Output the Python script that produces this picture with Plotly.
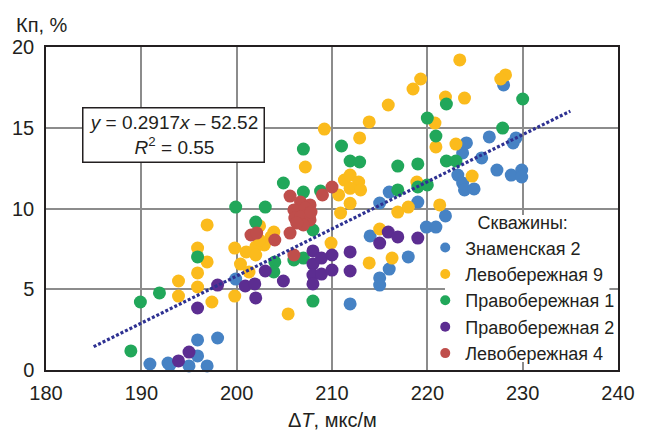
import plotly.graph_objects as go

# ---- data ----
zn2_x = [190.9,192.8,193.0,195.0,195.9,195.9,196.9,198.0,199.9,211.9,214.0,215.0,215.0,215.0,216.0,216.0,218.0,219.0,219.9,
         220.9,221.9,223.2,223.7,223.9,224.9,223.7,224.1,225.7,226.5,227.3,228.8,229.0,229.3,229.9,229.9,228.0]
zn2_y = [0.37,0.43,0.31,0.25,1.86,0.87,0.25,1.98,5.63,4.09,8.30,10.34,5.70,5.26,11.02,6.25,7.00,10.40,8.85,
         8.85,9.54,12.07,11.58,11.15,11.21,13.44,14.06,13.13,14.43,12.38,12.07,14.06,14.37,12.38,11.95,17.65]

lb9_x = [196.9,195.9,196.9,195.9,193.9,195.9,193.9,197.4,199.8,199.8,200.4,
         207.2,202.4,203.9,203.6,202.9,202.0,201.0,202.0,201.3,202.4,
         205.4,209.9,210.9,211.3,211.9,212.8,210.7,211.9,213.0,211.9,
         212.9,213.9,215.9,209.2,215.0,216.9,218.0,218.9,220.9,213.9,216.3,221.3,
         223.4,219.3,218.5,221.9,223.9,220.8,228.2,227.7,223.0,224.7]
lb9_y = [8.98,7.55,6.69,6.01,5.51,5.14,4.58,4.21,7.55,4.58,6.56,
         12.57,8.92,8.54,8.24,7.74,7.62,7.31,7.12,6.07,8.05,
         3.47,7.86,9.72,11.76,12.07,11.64,10.84,11.25,11.15,10.32,
         14.37,15.36,16.41,14.92,8.73,9.78,10.09,11.64,13.81,6.63,6.93,10.22,
         19.20,18.02,17.40,16.90,16.84,15.29,18.27,18.02,13.99,12.01]

pb1_x = [188.9,189.9,191.9,195.9,199.9,203.0,202.0,207.0,211.0,204.9,207.0,208.8,208.0,204.0,206.0,207.0,
         203.9,208.0,211.9,212.9,216.9,219.0,216.9,219.0,220.0,220.9,222.0,223.0,222.0,220.0,227.9,230.0]
pb1_y = [1.18,4.21,4.77,7.00,10.09,10.09,9.16,13.68,13.87,11.58,11.02,11.08,8.67,6.69,6.81,6.93,
         6.07,4.27,12.94,12.88,12.63,12.76,11.15,11.33,11.46,14.49,12.94,12.94,16.47,15.60,14.98,16.78]

pb2_x = [193.9,195.0,195.9,198.0,200.9,201.9,202.0,203.0,204.9,208.0,208.0,208.0,208.0,208.9,208.9,210.0,
         210.0,211.9,211.9,215.0,215.9,216.9,219.0]
pb2_y = [0.56,1.11,3.84,5.26,5.20,5.33,4.46,6.13,5.51,7.37,6.56,5.88,5.33,6.93,5.94,7.12,
         6.19,7.31,6.13,7.86,8.54,8.24,8.17]

lb4_x = [210.0,209.0,205.6,206.7,207.7,206.0,207.2,206.1,206.7,207.7,207.0,206.3,207.8,201.5,202.1,204.0,205.6,206.0]
lb4_y = [11.33,10.84,10.77,10.40,10.22,9.91,10.03,9.41,9.47,9.29,8.98,9.10,9.78,8.36,8.48,8.05,8.48,7.12]

series_names = ["Знаменская 2", "Левобережная 9", "Правобережная 1", "Правобережная 2", "Левобережная 4"]
series_colors = ["#4682c4", "#fbbb1c", "#21a75a", "#5c2d91", "#bf4e4b"]
series_x = [zn2_x, lb9_x, pb1_x, pb2_x, lb4_x]
series_y = [zn2_y, lb9_y, pb1_y, pb2_y, lb4_y]

trend_slope = 0.2917
trend_intercept = -52.52
trend_x = [185, 235]
trend_y = [trend_slope * v + trend_intercept for v in trend_x]

FONT = "Arial, Liberation Sans, Helvetica, sans-serif"

fig = go.Figure()
for name, col, xs, ys in zip(series_names, series_colors, series_x, series_y):
    fig.add_trace(go.Scatter(x=xs, y=ys, mode="markers", name=name, showlegend=False,
                             marker=dict(color=col, size=13, line=dict(width=0)),
                             cliponaxis=False))
fig.add_trace(go.Scatter(x=trend_x, y=trend_y, mode="lines", showlegend=False,
                         line=dict(color="#2e3192", width=3.2, dash="3px,2px")))
# legend-only entries
for name, col in zip(series_names, series_colors):
    fig.add_trace(go.Scatter(x=[None], y=[None], mode="markers", name=name,
                             marker=dict(color=col, size=10)))

fig.update_layout(
    width=647, height=431,
    margin=dict(l=42, r=20, t=47, b=61),
    paper_bgcolor="white", plot_bgcolor="white",
    font=dict(family=FONT, size=20, color="#231f20"),
    xaxis=dict(range=[180, 240], dtick=10, showgrid=True, gridcolor="#8c8c8c", gridwidth=1.5,
               showline=True, linecolor="#231f20", linewidth=1.5, mirror=True, zeroline=False,
               ticks="", ticklabelstandoff=4, tickfont=dict(size=20)),
    yaxis=dict(range=[0, 20], dtick=5, showgrid=True, gridcolor="#8c8c8c", gridwidth=1.5,
               showline=True, linecolor="#231f20", linewidth=1.5, mirror=True, zeroline=False,
               ticks="", ticklabelstandoff=6, tickfont=dict(size=20)),
    legend=dict(x=0.663, xanchor="left", y=0.508, yanchor="top",
                bgcolor="rgba(0,0,0,0)", borderwidth=0,
                font=dict(family=FONT, size=18, color="#231f20"),
                title=dict(text="Скважины:", side="top center", font=dict(size=18))),
    shapes=[dict(type="rect", xref="x", yref="y", x0=221.85, x1=239.1, y0=0.5, y1=9.6,
                 fillcolor="white", line=dict(width=0), layer="between")],
    annotations=[
        dict(text="<i>y</i> = 0.2917<i>x</i> – 52.52<br><i>R</i><sup>2</sup> = 0.55",
             x=193.4, y=14.55, xref="x", yref="y", showarrow=False, align="center",
             font=dict(size=19), bgcolor="white", bordercolor="#231f20", borderwidth=1.5,
             width=178, height=51, borderpad=1),
        dict(text="Δ<i>T</i>, мкс/м", x=0.5, y=(370-420)/323, xref="paper", yref="paper",
             showarrow=False, xanchor="center", yanchor="middle", font=dict(size=20)),
        dict(text="Кп, %", x=(9-42)/585, y=(370-25)/323, xref="paper", yref="paper",
             showarrow=False, xanchor="left", yanchor="middle", font=dict(size=20)),
    ],
)
fig.write_html("out.html")
